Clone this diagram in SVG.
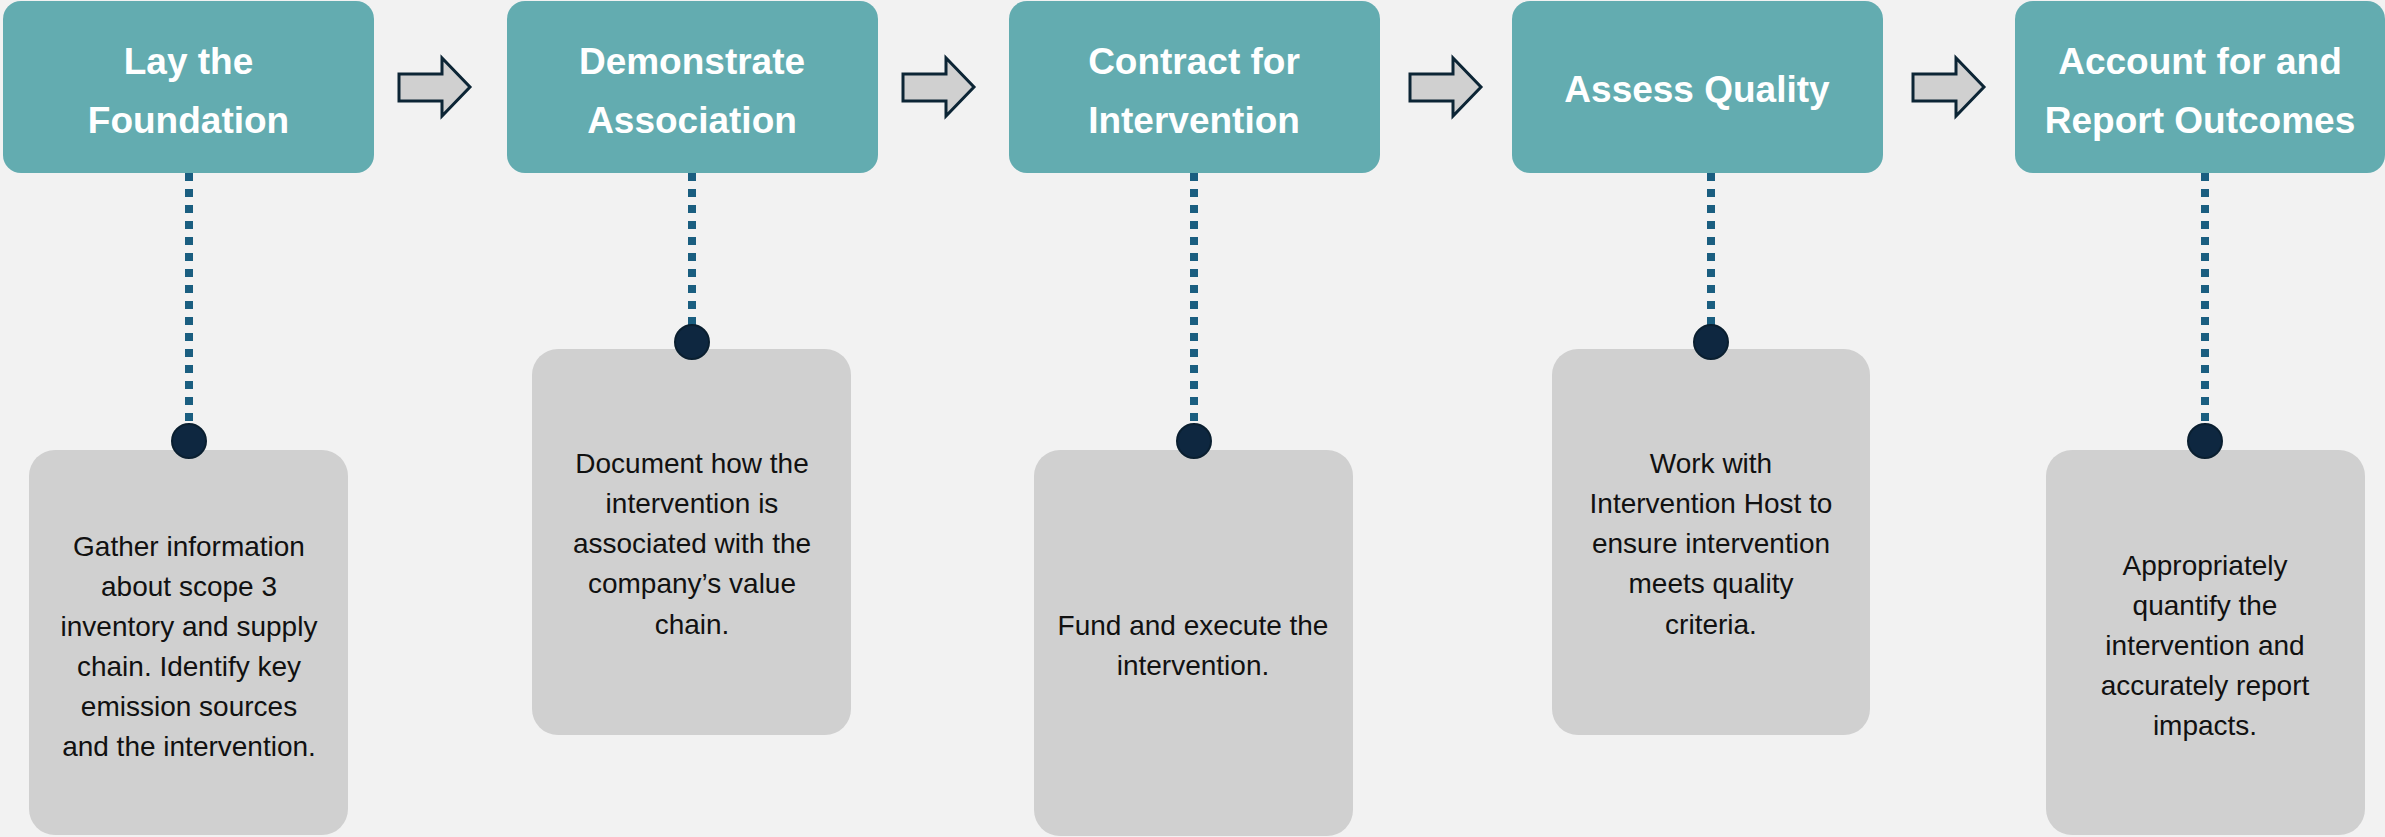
<svg xmlns="http://www.w3.org/2000/svg" width="2385" height="837" viewBox="0 0 2385 837">
<style>
.bg{fill:#f2f2f2}
.hd{fill:#63acb0}
.card{fill:#d0d0d0}
.ht{font-family:"Liberation Sans",Arial,sans-serif;font-weight:bold;font-size:37px;fill:#ffffff;text-anchor:middle}
.bt{font-family:"Liberation Sans",Arial,sans-serif;font-size:28px;fill:#111111;text-anchor:middle}
.arrow{fill:#d0d0d0;stroke:#0c2535;stroke-width:3;stroke-linejoin:miter}
.dots{stroke:#1a5e80;stroke-width:8;stroke-dasharray:8 8;fill:none}
.pin{fill:#0e2740;stroke:#0a1f30;stroke-width:2}
</style>
<rect class="bg" x="0" y="0" width="2385" height="837"/>

<g id="connectors">
  <line class="dots" x1="189" y1="173" x2="189" y2="430"/>
  <line class="dots" x1="692" y1="173" x2="692" y2="330"/>
  <line class="dots" x1="1194" y1="173" x2="1194" y2="430"/>
  <line class="dots" x1="1711" y1="173" x2="1711" y2="330"/>
  <line class="dots" x1="2205" y1="173" x2="2205" y2="430"/>
  <path class="arrow" d="M399,74 H442 V58 L470,87 L442,116 V101 H399 Z"/>
  <path class="arrow" d="M903,74 H946 V58 L974,87 L946,116 V101 H903 Z"/>
  <path class="arrow" d="M1410,74 H1453 V58 L1481,87 L1453,116 V101 H1410 Z"/>
  <path class="arrow" d="M1913,74 H1956 V58 L1984,87 L1956,116 V101 H1913 Z"/>
</g>

<g id="step1">
  <rect class="hd" x="3" y="1" width="371" height="172" rx="18"/>
  <text class="ht" x="188.5" y="74">Lay the</text>
  <text class="ht" x="188.5" y="133">Foundation</text>
</g>
<g id="step2">
  <rect class="hd" x="507" y="1" width="371" height="172" rx="18"/>
  <text class="ht" x="692" y="74">Demonstrate</text>
  <text class="ht" x="692" y="133">Association</text>
</g>
<g id="step3">
  <rect class="hd" x="1009" y="1" width="371" height="172" rx="18"/>
  <text class="ht" x="1194" y="74">Contract for</text>
  <text class="ht" x="1194" y="133">Intervention</text>
</g>
<g id="step4">
  <rect class="hd" x="1512" y="1" width="371" height="172" rx="18"/>
  <text class="ht" x="1697" y="102">Assess Quality</text>
</g>
<g id="step5">
  <rect class="hd" x="2015" y="1" width="370" height="172" rx="18"/>
  <text class="ht" x="2200" y="74">Account for and</text>
  <text class="ht" x="2200" y="133">Report Outcomes</text>
</g>

<g id="detail1">
  <rect class="card" x="29" y="450" width="319" height="385" rx="26"/>
  <circle class="pin" cx="189" cy="441" r="17"/>
  <text class="bt" x="189" y="556">Gather information</text>
  <text class="bt" x="189" y="596">about scope 3</text>
  <text class="bt" x="189" y="636">inventory and supply</text>
  <text class="bt" x="189" y="676">chain. Identify key</text>
  <text class="bt" x="189" y="716">emission sources</text>
  <text class="bt" x="189" y="756">and the intervention.</text>
</g>
<g id="detail2">
  <rect class="card" x="532" y="349" width="319" height="386" rx="26"/>
  <circle class="pin" cx="692" cy="342" r="17"/>
  <text class="bt" x="692" y="473">Document how the</text>
  <text class="bt" x="692" y="513">intervention is</text>
  <text class="bt" x="692" y="553">associated with the</text>
  <text class="bt" x="692" y="593">company’s value</text>
  <text class="bt" x="692" y="634">chain.</text>
</g>
<g id="detail3">
  <rect class="card" x="1034" y="450" width="319" height="386" rx="26"/>
  <circle class="pin" cx="1194" cy="441" r="17"/>
  <text class="bt" x="1193" y="635">Fund and execute the</text>
  <text class="bt" x="1193" y="675">intervention.</text>
</g>
<g id="detail4">
  <rect class="card" x="1552" y="349" width="318" height="386" rx="26"/>
  <circle class="pin" cx="1711" cy="342" r="17"/>
  <text class="bt" x="1711" y="473">Work with</text>
  <text class="bt" x="1711" y="513">Intervention Host to</text>
  <text class="bt" x="1711" y="553">ensure intervention</text>
  <text class="bt" x="1711" y="593">meets quality</text>
  <text class="bt" x="1711" y="634">criteria.</text>
</g>
<g id="detail5">
  <rect class="card" x="2046" y="450" width="319" height="385" rx="26"/>
  <circle class="pin" cx="2205" cy="441" r="17"/>
  <text class="bt" x="2205" y="575">Appropriately</text>
  <text class="bt" x="2205" y="615">quantify the</text>
  <text class="bt" x="2205" y="655">intervention and</text>
  <text class="bt" x="2205" y="695">accurately report</text>
  <text class="bt" x="2205" y="735">impacts.</text>
</g>
</svg>
